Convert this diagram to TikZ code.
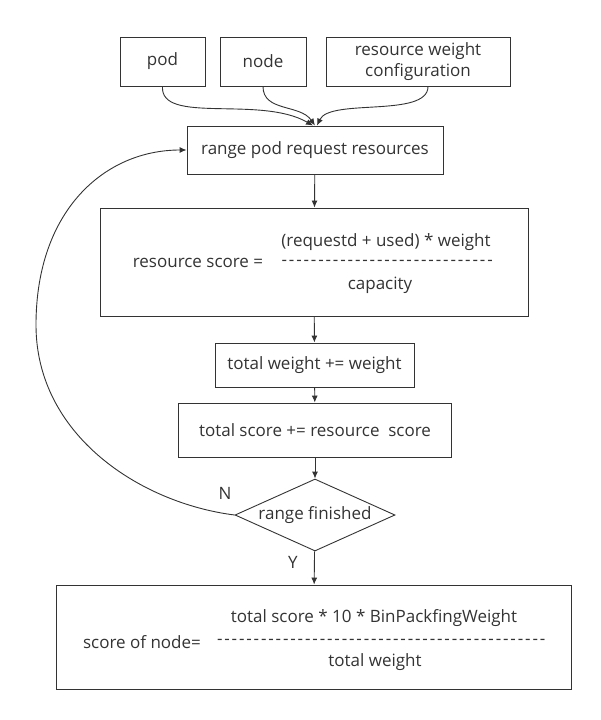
\documentclass[tikz,border=0pt]{standalone}
\usepackage{fontspec}
\setmainfont{Open Sans}
\usetikzlibrary{shapes.geometric,arrows.meta}
\newcommand{\dashrow}[1]{\makebox[#1]{\xleaders\hbox{-\hspace{1.8pt}}\hfill}}

\begin{document}
\begin{tikzpicture}[x=1pt, y=-1pt, font=\fontsize{17}{21}\selectfont, text=black!80]
	\tikzset{box/.style={draw=black!80, line width=0.9pt, rectangle, inner sep=0pt},
		flow lines/.style={black!80, line width=0.9pt, -{Latex[length=7pt,width=6pt]}}}
	\useasboundingbox (0, 0) rectangle (601, 720);

	% inputs
	\node[box, minimum width=85pt, minimum height=49pt] (pod) at (162.5, 61.5) {pod};
	\node[box, minimum width=86pt, minimum height=49pt] (nodein) at (263, 61.5) {node};
	\node[box, minimum width=184pt, minimum height=49pt, align=center] (conf) at (418, 61.5)
	{resource weight\\ configuration};

	\node[box, minimum width=256pt, minimum height=48pt] (range) at (315, 150)
	{range pod request resources};

	% resource score
	\node[box, minimum width=428pt, minimum height=108pt] (rscore) at (314, 262) {};
	\node (rscore-lbl) at (198, 263) {resource score =};
	\node (rscore-num) at (386, 242) {(requestd + used) * weight};
	\node (rscore-bar) at (388, 263) {\dashrow{213pt}};
	\node (rscore-den) at (380, 285) {capacity};

	\node[box, minimum width=199pt, minimum height=44pt] (tweight) at (314.5, 365)
	{total weight += weight};
	\node[box, minimum width=273pt, minimum height=54pt] (tscore) at (315, 430)
	{total score += resource\ \ score};
	\node[draw=black!80, line width=0.9pt, diamond, inner sep=0pt, aspect=2.2,
		minimum width=160pt, minimum height=72pt] (finish) at (315, 515) {range finished};

	% score of node
	\node[box, minimum width=515pt, minimum height=104pt] (result) at (313.5, 637) {};
	\node (result-lbl) at (142, 642) {score of node=};
	\node (result-num) at (374, 618) {total score * 10 * BinPackfingWeight};
	\node (result-bar) at (382, 642) {\dashrow{330pt}};
	\node (result-den) at (375, 662) {total weight};

	\node (n) at (225, 493) {N};
	\node (y) at (293, 562) {Y};
	\coordinate (loop) at (36, 325);

	\draw[flow lines] (pod.south) .. controls (160, 125) and (260, 95) .. ([xshift=-2pt]range.north);
	\draw[flow lines] (nodein.south) .. controls (263, 112) and (300, 104) .. (range.north);
	\draw[flow lines] ([xshift=10pt]conf.south) .. controls (428, 118) and (330, 98) .. ([xshift=2pt]range.north);
	\draw[flow lines] (range) -- (rscore);
	\draw[flow lines] (rscore) -- (tweight);
	\draw[flow lines] (tscore) -- (finish);
	\draw[flow lines] (tweight) -- (tscore);
	\draw[flow lines] (finish) -- (result);
	\draw[flow lines] (finish.west) .. controls (140, 503) and (36, 435) .. (loop)
	.. controls (36, 210) and (105, 150) .. (range.west);
\end{tikzpicture}
\end{document}
